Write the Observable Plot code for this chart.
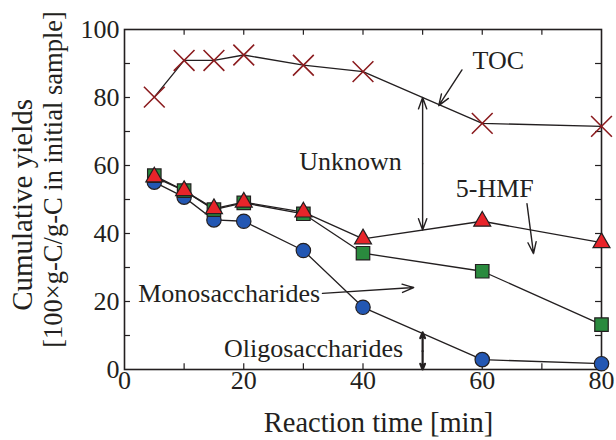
<!DOCTYPE html>
<html>
<head>
<meta charset="utf-8">
<script src="https://cdn.jsdelivr.net/npm/d3@7"></script>
<script src="https://cdn.jsdelivr.net/npm/@observablehq/plot@0.6"></script>
<style>
  html, body { margin: 0; padding: 0; background: #fff; }
</style>
</head>
<body>
<div id="chart"></div>
<script>
const times = [5, 10, 15, 20, 30, 40, 60, 80];
const toc   = [80.1, 90.9, 90.9, 92.5, 89.5, 87.6, 72.4, 71.5];
const hmf   = [56.6, 52.6, 47.3, 49.2, 46.3, 38.4, 43.6, 37.3];
const mono  = [57.0, 52.6, 47.0, 49.0, 45.8, 34.2, 28.9, 13.2];
const oligo = [55.1, 50.7, 44.0, 43.6, 35.0, 18.3, 2.9, 1.7];

const xTickLabels = [0, 20, 40, 60, 80];
const yTickLabels = [0, 20, 40, 60, 80, 100];
const xMinor = [10, 20, 30, 40, 50, 60, 70];
const yMinor = [10, 20, 30, 40, 50, 60, 70, 80, 90];

// annotation labels and arrows (data coordinates)
const labels = [
  {text: "TOC", x: 62.7, y: 90.9, anchor: "middle"},
  {text: "Unknown", x: 37.9, y: 61.2, anchor: "middle"},
  {text: "5-HMF", x: 62.1, y: 53.2, anchor: "middle"},
  {text: "Monosaccharides", x: 2.3, y: 22.4, anchor: "start"},
  {text: "Oligosaccharides", x: 31.7, y: 6.2, anchor: "middle"}
];
const arrows = [
  {x1: 56.6, y1: 88.1, x2: 52.7, y2: 77.6},   // TOC
  {x1: 50, y1: 60.5, x2: 50, y2: 80.0},       // Unknown up
  {x1: 50, y1: 60.5, x2: 50, y2: 41.0},       // Unknown down
  {x1: 67.5, y1: 48.8, x2: 68.6, y2: 34.1},   // 5-HMF
  {x1: 33.2, y1: 22.4, x2: 48.5, y2: 24.1}    // Monosaccharides
];
const arrowsOligo = [
  {x1: 50, y1: 5.4, x2: 50, y2: 10.9},
  {x1: 50, y1: 5.4, x2: 50, y2: 0}
];

const mk = (vals) => times.map((t, i) => ({t, v: vals[i]}));
const dToc = mk(toc), dHmf = mk(hmf), dMono = mk(mono), dOligo = mk(oligo);
const ink = "#231f20";

const chart = Plot.plot({
  width: 616,
  height: 440,
  marginLeft: 124,
  marginRight: 15,
  marginTop: 29,
  marginBottom: 71,
  x: {domain: [0, 80]},
  y: {domain: [0, 100]},
  style: {fontFamily: "'Liberation Serif', 'Times New Roman', serif", color: ink, background: "#fff"},
  marks: [
    // inward ticks
    Plot.ruleX(xMinor, {x: d => d, y1: 0, y2: 1.7, stroke: ink, strokeWidth: 1.2}),
    Plot.ruleX(xMinor, {x: d => d, y1: 100, y2: 98.3, stroke: ink, strokeWidth: 1.2}),
    Plot.ruleY(yMinor, {y: d => d, x1: 0, x2: 1, stroke: ink, strokeWidth: 1.2}),
    Plot.ruleY(yMinor, {y: d => d, x1: 80, x2: 79, stroke: ink, strokeWidth: 1.2}),
    Plot.frame({stroke: ink, strokeWidth: 1.6}),
    Plot.axisX({ticks: xTickLabels, tickSize: 0, tickPadding: 1, fontSize: 26, label: null, tickFormat: d => String(d)}),
    Plot.axisY({ticks: yTickLabels, tickSize: 0, tickPadding: 5, fontSize: 26, label: null, tickFormat: d => String(d)}),
    // lines
    Plot.line(dOligo, {x: "t", y: "v", stroke: ink, strokeWidth: 1.3}),
    Plot.line(dMono, {x: "t", y: "v", stroke: ink, strokeWidth: 1.3}),
    Plot.line(dHmf, {x: "t", y: "v", stroke: ink, strokeWidth: 1.3}),
    Plot.line(dToc, {x: "t", y: "v", stroke: ink, strokeWidth: 1.3}),
    // markers
    Plot.dot(dToc, {x: "t", y: "v", symbol: "times", r: 9.5, stroke: "#8b1c1f", strokeWidth: 1.6}),
    Plot.dot(dOligo, {x: "t", y: "v", symbol: "circle", r: 7.2, fill: "#2357b3", stroke: ink, strokeWidth: 1.2}),
    Plot.dot(dMono, {x: "t", y: "v", symbol: "square", r: 7.6, fill: "#2a8a3e", stroke: ink, strokeWidth: 1.2}),
    Plot.dot(dHmf, {x: "t", y: "v", symbol: "triangle", r: 6.3, fill: "#e8242a", stroke: ink, strokeWidth: 1.2}),
    // annotations
    Plot.arrow(arrows, {x1: "x1", y1: "y1", x2: "x2", y2: "y2", stroke: ink, strokeWidth: 1.4, headLength: 13, headAngle: 40}),
    Plot.arrow(arrowsOligo, {x1: "x1", y1: "y1", x2: "x2", y2: "y2", stroke: ink, strokeWidth: 2.2, headLength: 14, headAngle: 45}),
    Plot.text(labels.filter(d => d.anchor === "middle"), {x: "x", y: "y", text: "text", fontSize: 26, fill: ink, textAnchor: "middle"}),
    Plot.text(labels.filter(d => d.anchor === "start"), {x: "x", y: "y", text: "text", fontSize: 26, fill: ink, textAnchor: "start"}),
    // axis titles
    Plot.text(["Reaction time [min]"], {x: 42.6, frameAnchor: "bottom", lineAnchor: "middle", dy: 53, fontSize: 28.5, fill: ink, textAnchor: "middle"}),
    Plot.text(["Cumulative yields"], {y: 48.4, frameAnchor: "left", dx: -102, rotate: -90, fontSize: 29, fill: ink, textAnchor: "middle"}),
    Plot.text(["[100×g-C/g-C in initial sample]"], {y: 55.9, frameAnchor: "left", dx: -71, rotate: -90, fontSize: 26.5, fill: ink, textAnchor: "middle"})
  ]
});
document.getElementById("chart").appendChild(chart);
</script>
</body>
</html>
